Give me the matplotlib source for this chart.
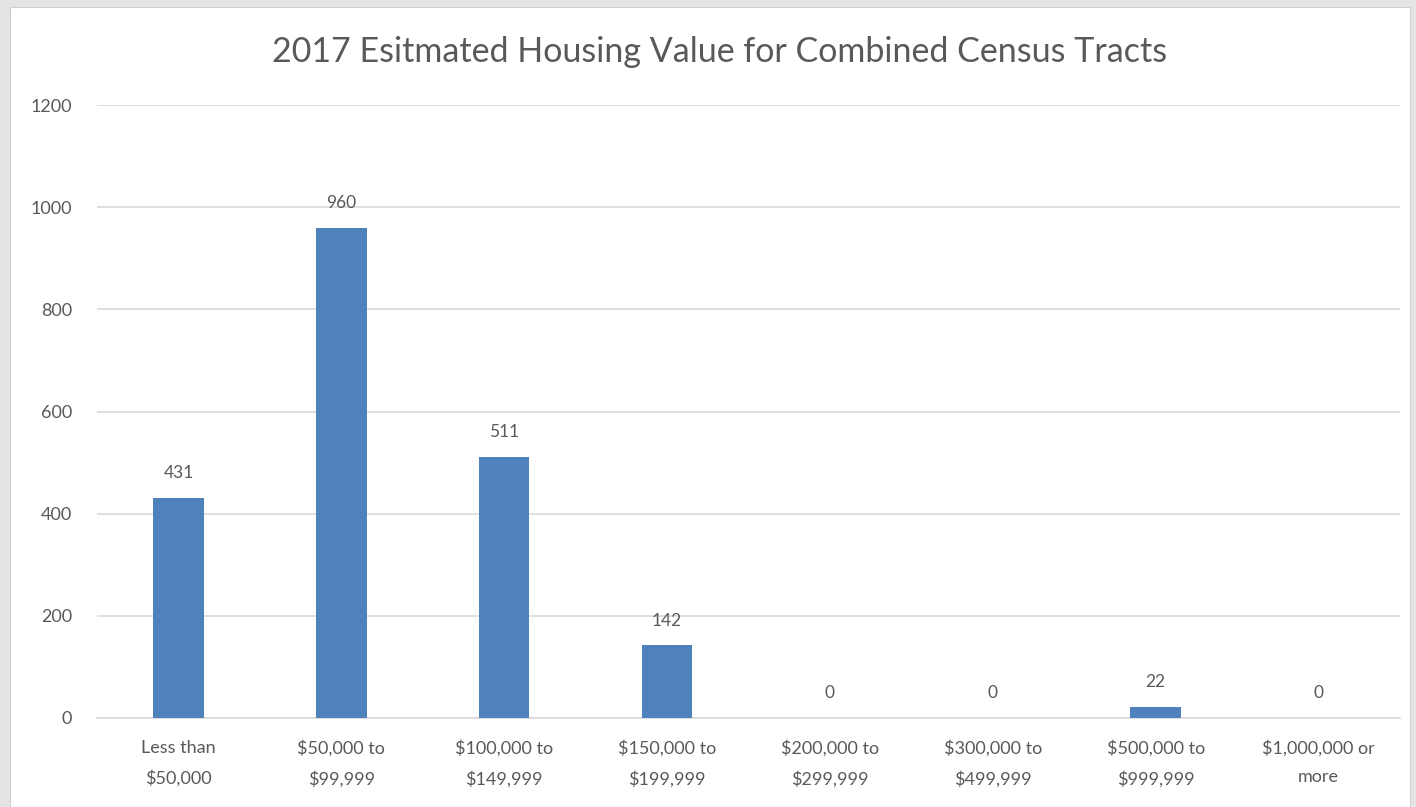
import matplotlib.pyplot as plt
from matplotlib.patches import Rectangle

# Housing value categories and counts
categories = ['Less than\n$50,000', '$50,000 to\n$99,999', '$100,000 to\n$149,999',
              '$150,000 to\n$199,999', '$200,000 to\n$299,999', '$300,000 to\n$499,999',
              '$500,000 to\n$999,999', '$1,000,000 or\nmore']
counts = [431, 960, 511, 142, 0, 0, 22, 0]
y_ticks = [0, 200, 400, 600, 800, 1000, 1200]

text_color = '#595959'
bar_color = '#4f81bd'
plt.rcParams['font.family'] = ['Lato', 'DejaVu Sans']

fig = plt.figure(figsize=(14.16, 8.07), dpi=100, facecolor='#e4e4e4')
# white chart panel on the gray background
fig.patches.append(Rectangle((10 / 1416, 0), 1400 / 1416, 800 / 807,
                             transform=fig.transFigure, facecolor='white',
                             edgecolor='#d0d0d0', linewidth=0.8, zorder=-5))

ax = fig.add_axes([97 / 1416, 89 / 807, 1303 / 1416, 613 / 807])
ax.set_facecolor('none')

x = range(len(categories))
bars = ax.bar(x, counts, width=0.31, color=bar_color, zorder=3)

for xi, v in zip(x, counts):
    ax.annotate(str(v), (xi, v), xytext=(0, 12), textcoords='offset points',
                ha='center', va='bottom', fontsize=12.5, color=text_color)

ax.set_xlim(-0.5, len(categories) - 0.5)
ax.set_ylim(0, 1200)
ax.set_yticks(y_ticks)
ax.set_xticks(list(x))
ax.set_xticklabels(categories, fontsize=13, color=text_color, linespacing=1.95)
ax.tick_params(axis='y', labelsize=13, labelcolor=text_color, length=0, pad=18)
ax.tick_params(axis='x', length=0, pad=16)
ax.grid(axis='y', color='#d9d9d9', linewidth=1.2, zorder=0)
for side in ['top', 'right', 'left']:
    ax.spines[side].set_visible(False)
ax.spines['bottom'].set_color('#d9d9d9')
ax.spines['bottom'].set_linewidth(1.2)

fig.text(720 / 1416, 1 - 52 / 807, '2017 Esitmated Housing Value for Combined Census Tracts',
         ha='center', va='center', fontsize=24.5, color=text_color)

fig.savefig('out.png', dpi=100, facecolor=fig.get_facecolor())
